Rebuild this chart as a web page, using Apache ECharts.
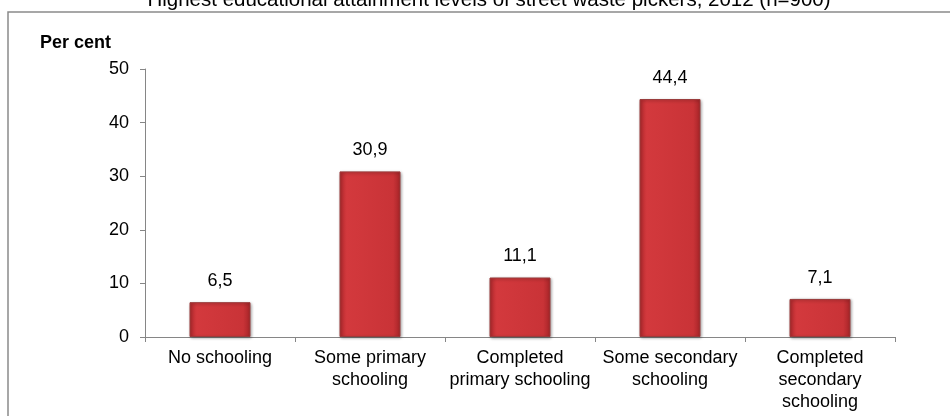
<!DOCTYPE html>
<html><head><meta charset="utf-8">
<script src="https://cdn.jsdelivr.net/npm/echarts@6/dist/echarts.min.js"></script>
<style>html,body{margin:0;padding:0;background:#fff}#c{width:950px;height:416px}</style>
</head><body><div id="c"></div>
<script>
const categories = ['No schooling','Some primary\nschooling','Completed\nprimary schooling','Some secondary\nschooling','Completed\nsecondary\nschooling'];
const values = [6.5, 30.9, 11.1, 44.4, 7.1];
const yTicks = [0, 10, 20, 30, 40, 50];
const titleText = 'Highest educational attainment levels of street waste pickers, 2012 (n=900)';
const yAxisName = 'Per cent';

const chart = echarts.init(document.getElementById('c'));
const font = 'Liberation Sans, Arial, sans-serif';
chart.setOption({
  animation: false,
  title: { text: titleText, left: 484, textAlign: 'center', top: -15,
    textStyle: { fontFamily: font, fontSize: 20.5, fontWeight: 'normal', color: '#000' } },
  graphic: [
    { type: 'rect', shape: { x: 8, y: 12, width: 960, height: 420 },
      style: { fill: 'none', stroke: '#8a8a8a', lineWidth: 1.5 }, silent: true },
    { type: 'text', left: 40, top: 34, style: { text: yAxisName, font: 'bold 18px ' + font, fill: '#000' } }
  ],
  grid: { left: 145, right: 55, top: 69, bottom: 79 },
  xAxis: {
    type: 'category', data: categories,
    axisLine: { lineStyle: { color: '#868686', width: 1 } },
    axisTick: { show: true, length: 5, alignWithLabel: false, lineStyle: { color: '#868686' } },
    axisLabel: { color: '#000', fontFamily: font, fontSize: 18, lineHeight: 22, margin: 10, interval: 0 }
  },
  yAxis: {
    type: 'value', min: yTicks[0], max: yTicks[yTicks.length - 1], interval: 10,
    splitLine: { show: false },
    axisLine: { show: true, lineStyle: { color: '#868686', width: 1 } },
    axisTick: { show: true, length: 5, lineStyle: { color: '#868686' } },
    axisLabel: { color: '#000', fontFamily: font, fontSize: 18, margin: 16 }
  },
  series: [{
    type: 'bar', data: values, barWidth: 61,
    itemStyle: {
      color: new echarts.graphic.LinearGradient(0, 0, 1, 0, [
        { offset: 0, color: '#b52a2e' },
        { offset: 0.12, color: '#d3393d' },
        { offset: 0.88, color: '#c93337' },
        { offset: 1, color: '#a52428' }
      ]),
      borderColor: '#9a3b3b', borderWidth: 1,
      shadowColor: 'rgba(0,0,0,0.35)', shadowBlur: 3, shadowOffsetX: 1, shadowOffsetY: 1
    },
    label: { show: true, position: 'top', distance: 12, color: '#000', fontFamily: font, fontSize: 18,
      formatter: p => String(p.value).replace('.', ',') }
  }]
});
</script>
</body></html>
